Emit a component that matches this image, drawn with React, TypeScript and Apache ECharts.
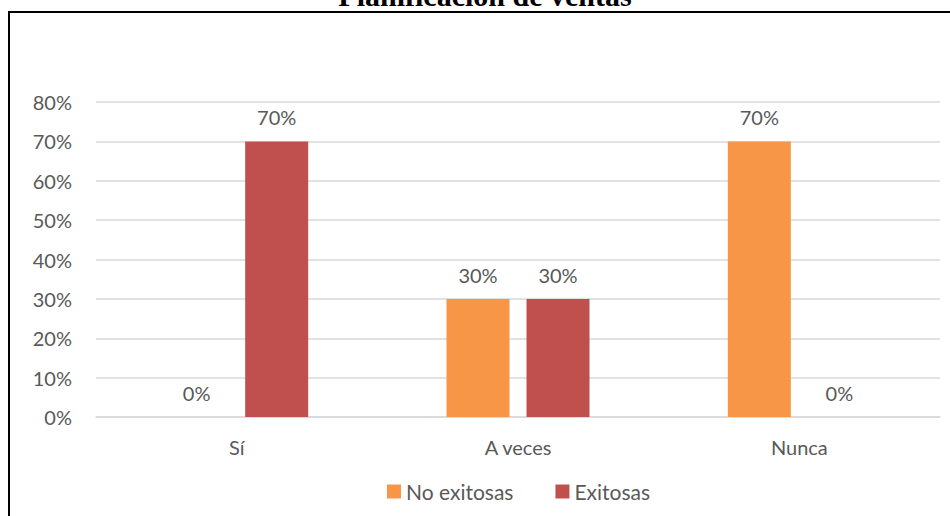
import React, { useEffect, useRef } from "react";
import * as echarts from "echarts";

const categories = ["Sí", "A veces", "Nunca"];
const noExitosas = [0, 0.3, 0.7];
const exitosas = [0.7, 0.3, 0];
const seriesNames = ["No exitosas", "Exitosas"];
const titleText = "Planificación de ventas";

const FONT = "Lato, 'Open Sans', sans-serif";
const TEXT_COLOR = "#595959";

const pct = (v: number) => `${Math.round(v * 100)}%`;

export default function App() {
  const ref = useRef<HTMLDivElement>(null);

  useEffect(() => {
    document.body.style.margin = "0";
    const chart = echarts.init(ref.current!, undefined, { renderer: "svg" });

    const labelStyle = {
      show: true,
      position: "top" as const,
      distance: 14,
      formatter: (p: any) => pct(p.value),
      color: TEXT_COLOR,
      fontFamily: FONT,
      fontSize: 20,
    };

    chart.setOption({
      animation: false,
      backgroundColor: "#ffffff",
      textStyle: { fontFamily: FONT },
      graphic: [
        {
          type: "rect",
          shape: { x: 9, y: 12, width: 980, height: 540 },
          style: { fill: "none", stroke: "#000000", lineWidth: 2 },
          silent: true,
        },
        {
          type: "text",
          x: 485,
          y: 10,
          style: {
            text: titleText,
            fontFamily: "'Liberation Serif', 'Times New Roman', serif",
            fontWeight: "bold",
            fontSize: 30,
            fill: "#000000",
            textAlign: "center",
            textVerticalAlign: "bottom",
          },
        },
      ],
      grid: { left: 96, right: 10, top: 102, bottom: 99 },
      legend: {
        data: seriesNames,
        left: 382,
        top: 476,
        icon: "rect",
        itemWidth: 14,
        itemHeight: 14,
        itemGap: 42,
        textStyle: { color: TEXT_COLOR, fontFamily: FONT, fontSize: 21 },
      },
      xAxis: {
        type: "category",
        data: categories,
        axisLine: { lineStyle: { color: "#d9d9d9", width: 1.5 } },
        axisTick: { show: false },
        axisLabel: { color: TEXT_COLOR, fontFamily: FONT, fontSize: 20, margin: 20 },
      },
      yAxis: {
        type: "value",
        min: 0,
        max: 0.8,
        interval: 0.1,
        axisLine: { show: false },
        axisTick: { show: false },
        splitLine: { lineStyle: { color: "#d9d9d9", width: 1.5 } },
        axisLabel: {
          color: TEXT_COLOR,
          fontFamily: FONT,
          fontSize: 20,
          margin: 24,
          formatter: (v: number) => pct(v),
        },
      },
      series: [
        {
          name: seriesNames[0],
          type: "bar",
          data: noExitosas,
          barWidth: 63,
          barGap: "27%",
          itemStyle: { color: "#F79646" },
          label: labelStyle,
        },
        {
          name: seriesNames[1],
          type: "bar",
          data: exitosas,
          barWidth: 63,
          barGap: "27%",
          itemStyle: { color: "#C0504D" },
          label: labelStyle,
        },
      ],
    });

    return () => chart.dispose();
  }, []);

  return <div ref={ref} style={{ width: 950, height: 516 }} />;
}
